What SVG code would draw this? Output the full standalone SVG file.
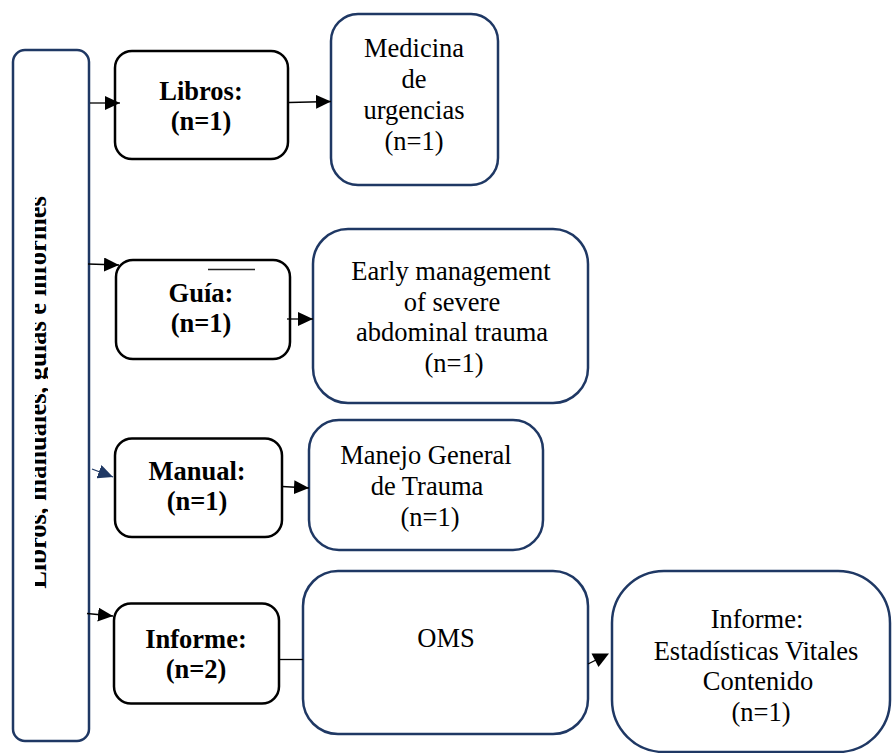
<svg xmlns="http://www.w3.org/2000/svg" width="894" height="753" viewBox="0 0 894 753">
<style>
.nb{fill:#fff;stroke:#1f3864;stroke-width:2.5}
.bb{fill:#fff;stroke:#000;stroke-width:2.5}
.t{font-family:"Liberation Serif","Times New Roman",serif;font-size:26.5px;fill:#000;text-anchor:middle}
.b{font-weight:bold}
.c{stroke:#000;stroke-width:1.3;fill:none}
</style>
<defs>
<marker id="ah" markerUnits="userSpaceOnUse" markerWidth="15" markerHeight="14" refX="15" refY="7" orient="auto">
<path d="M0,0 L15,7 L0,14 z" fill="#000"/>
</marker>
<marker id="ahn" markerUnits="userSpaceOnUse" markerWidth="15" markerHeight="14" refX="15" refY="7" orient="auto">
<path d="M0,0 L15,7 L0,14 z" fill="#1f3864"/>
</marker>
<clipPath id="vclip"><rect x="35" y="50" width="13" height="690"/></clipPath>
</defs>
<g id="main">
<rect class="nb" x="13" y="50" width="76" height="691" rx="12"/>
<g clip-path="url(#vclip)">
<text class="t b" transform="translate(46,392.5) rotate(-90)" x="0" y="0">Libros, manuales, guías e informes</text>
</g>
</g>
<g id="libros">
<rect class="bb" x="115" y="51" width="173" height="108" rx="17"/>
<text class="t b" x="201" y="100">Libros:</text>
<text class="t b" x="201" y="130">(n=1)</text>
</g>
<g id="guia">
<rect class="bb" x="116" y="260" width="174" height="99" rx="17"/>
<line x1="208" y1="269.5" x2="255" y2="269.5" stroke="#222" stroke-width="1.5"/>
<text class="t b" x="201" y="301.5">Guía:</text>
<text class="t b" x="201" y="331.5">(n=1)</text>
</g>
<g id="manual">
<rect class="bb" x="115" y="438.5" width="167" height="98.5" rx="17"/>
<text class="t b" x="197" y="480">Manual:</text>
<text class="t b" x="197" y="509.5">(n=1)</text>
</g>
<g id="informe">
<rect class="bb" x="114" y="603.5" width="165" height="100" rx="17"/>
<text class="t b" x="196" y="648">Informe:</text>
<text class="t b" x="196" y="678">(n=2)</text>
</g>
<g id="medicina">
<rect class="nb" x="331" y="14" width="167" height="171" rx="27"/>
<text class="t" x="414" y="57">Medicina</text>
<text class="t" x="414" y="88">de</text>
<text class="t" x="414" y="119">urgencias</text>
<text class="t" x="414" y="150">(n=1)</text>
</g>
<g id="early">
<rect class="nb" x="313" y="229" width="275" height="174" rx="35"/>
<text class="t" x="451" y="280">Early management</text>
<text class="t" x="452" y="310.5">of severe</text>
<text class="t" x="452" y="341">abdominal trauma</text>
<text class="t" x="454" y="371.5">(n=1)</text>
</g>
<g id="manejo">
<rect class="nb" x="309" y="420" width="234" height="130" rx="30"/>
<text class="t" x="426" y="464">Manejo General</text>
<text class="t" x="427" y="495">de Trauma</text>
<text class="t" x="430" y="526">(n=1)</text>
</g>
<g id="oms">
<rect class="nb" x="303" y="571" width="285" height="163" rx="35"/>
<text class="t" x="446" y="647">OMS</text>
</g>
<g id="estadisticas">
<rect class="nb" x="612" y="571" width="278" height="181" rx="52"/>
<text class="t" x="757" y="628">Informe:</text>
<text class="t" x="756" y="660">Estadísticas Vitales</text>
<text class="t" x="758" y="690">Contenido</text>
<text class="t" x="761" y="721">(n=1)</text>
</g>
<g id="connectors">
<line class="c" x1="90" y1="103" x2="120" y2="103" marker-end="url(#ah)"/>
<line class="c" x1="289" y1="102.5" x2="331" y2="101.5" marker-end="url(#ah)"/>
<line class="c" x1="88" y1="264" x2="119" y2="265" marker-end="url(#ah)"/>
<line class="c" x1="287" y1="319" x2="313" y2="319" marker-end="url(#ah)"/>
<line x1="92" y1="469" x2="113" y2="477" stroke="#1f3864" stroke-width="1.3" marker-end="url(#ahn)"/>
<line class="c" x1="282" y1="486.5" x2="309" y2="488" marker-end="url(#ah)"/>
<line class="c" x1="87" y1="613.5" x2="113" y2="616" marker-end="url(#ah)"/>
<line class="c" x1="279" y1="659.5" x2="303" y2="659.5"/>
<line class="c" x1="588" y1="664" x2="596" y2="660"/>
<polygon points="591.5,653.5 609,653.5 598.5,667" fill="#000"/>
</g>
</svg>
